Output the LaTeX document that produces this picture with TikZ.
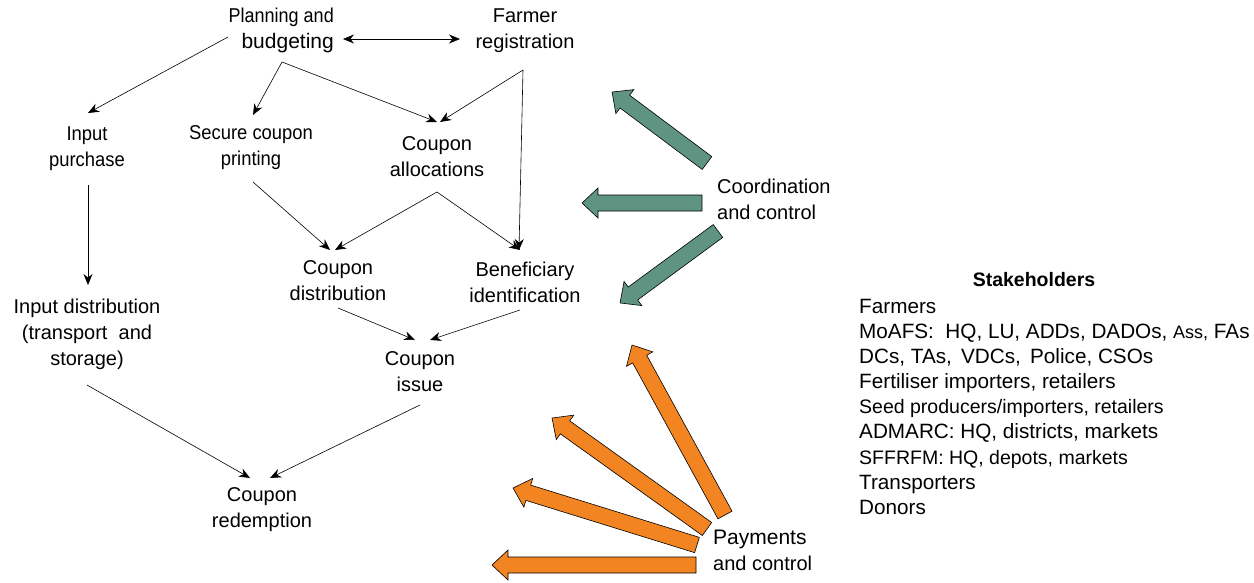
\documentclass[tikz,border=0pt]{standalone}
\usepackage{fontspec}
\setmainfont{Liberation Sans}
\newfontfamily\condfont[FakeStretch=0.92]{Liberation Sans}
\newfontfamily\ncondfont[FakeStretch=0.9]{Liberation Sans}
\usetikzlibrary{arrows.meta,calc}
\definecolor{tealc}{RGB}{95,148,130}
\definecolor{orangec}{RGB}{242,133,34}
\newcommand\blockarrow[5]{%
  \pgfmathsetmacro\bdx{#4-#2}\pgfmathsetmacro\bdy{#5-#3}%
  \pgfmathsetmacro\blen{veclen(\bdx,\bdy)}\pgfmathsetmacro\bang{atan2(-\bdy,\bdx)}%
  \begin{scope}[shift={(#2,#3)},rotate=\bang,x=1pt,y=1pt]
  \draw[fill=#1,line width=0.6pt,line join=miter] (0,-8) -- (\blen-16,-8) -- (\blen-16,-15) -- (\blen,0) -- (\blen-16,15) -- (\blen-16,8) -- (0,8) -- cycle;
  \end{scope}}
\tikzset{
  lbl/.style={align=center,inner sep=1pt,font=\fontsize{20}{26}\selectfont},
  clbl/.style={align=center,inner sep=1pt,font=\condfont\fontsize{20}{26}\selectfont},
  conn/.style={-{Stealth[length=11pt,width=9pt]},line width=0.6pt},
}
\begin{document}
\begin{tikzpicture}[x=1pt,y=-1pt]
\useasboundingbox (0,0) rectangle (1254,582);
% nodes
\node[lbl,align=right,anchor=east] (plan) at (335,30) {{\ncondfont\fontsize{20}{26}\selectfont Planning and}\\{\fontsize{21}{26}\selectfont budgeting}};
\node[lbl] (farmer) at (525,31) {Farmer\\registration};
\node[clbl] (inpur) at (87,149) {Input\\purchase};
\node[clbl] (secure) at (251,148) {Secure coupon\\printing};
\node[lbl] (alloc) at (437,157) {Coupon\\allocations};
\node[lbl] (cdist) at (338,281) {Coupon\\distribution};
\node[lbl] (benef) at (525,282) {Beneficiary\\identification};
\node[lbl] (indist) at (87,334) {Input distribution\\(transport\ \ and\\storage)};
\node[lbl] (issue) at (420,372) {Coupon\\issue};
\node[lbl] (redeem) at (262,510) {Coupon\\redemption};
\node[lbl,align=left,anchor=west] (coord) at (716,199) {Coordination\\and control};
\node[lbl,align=left,anchor=west] (pay) at (712,550) {{\fontsize{21}{26}\selectfont Payments}\\and control};
\node[font=\bfseries\fontsize{19.5}{22}\selectfont,inner sep=1pt] (stakeh) at (1034,280) {Stakeholders};
\node[anchor=north west,align=left,inner sep=0pt,font=\fontsize{20.7}{25.1}\selectfont] (stakel) at (859,299)
 {Farmers\\
  MoAFS:\ \ HQ, LU, ADDs, DADOs, {\fontsize{18}{25}\selectfont Ass,} FAs\\
  DCs, TAs, \,VDCs, \,Police, CSOs\\
  Fertiliser importers, retailers\\
  {\fontsize{19.5}{25}\selectfont Seed producers/importers, retailers}\\
  ADMARC: HQ, districts, markets\\
  {\fontsize{19.5}{25}\selectfont SFFRFM: HQ, depots, markets}\\
  Transporters\\
  Donors};
% connectors
\draw[conn] ($(plan.east)+(-107,7)$) -- ($(inpur)+(1,-36)$);
\draw[conn] ($(plan.east)+(-53,32)$) -- ($(secure)+(2,-33)$);
\draw[conn] ($(plan.east)+(-53,32)$) -- ($(alloc)+(0,-35)$);
\draw[conn,{Stealth[length=11pt,width=9pt]}-{Stealth[length=11pt,width=9pt]}] ($(plan.east)+(8,9)$) -- ($(farmer)+(-65,8)$);
\draw[conn] ($(farmer)+(-2,39)$) -- ($(alloc)+(3,-35)$);
\draw[conn] ($(farmer)+(-2,39)$) -- ($(benef)+(-6,-32)$);
\draw[conn] ($(secure)+(2,34)$) -- ($(cdist)+(-8,-31)$);
\draw[conn] ($(alloc)+(0,35)$) -- ($(cdist)+(-3,-31)$);
\draw[conn] ($(alloc)+(0,35)$) -- ($(benef)+(-5,-32)$);
\draw[conn] ($(inpur)+(1,36)$) -- ($(indist)+(1,-49)$);
\draw[conn] ($(cdist)+(0,27)$) -- ($(issue)+(-5,-32)$);
\draw[conn] ($(benef)+(-5,28)$) -- ($(issue)+(10,-32)$);
\draw[conn] ($(indist)+(0,51)$) -- ($(redeem)+(-12,-32)$);
\draw[conn] ($(issue)+(0,33)$) -- ($(redeem)+(8,-32)$);
% block arrows (coordination)
\blockarrow{tealc}{707}{163}{612}{92}
\blockarrow{tealc}{702}{203}{582}{203}
\blockarrow{tealc}{718}{231}{620}{303}
% block arrows (payments)
\blockarrow{orangec}{725}{515}{632}{345}
\blockarrow{orangec}{707}{529}{552}{418}
\blockarrow{orangec}{697}{545}{513}{488}
\blockarrow{orangec}{696}{565}{492}{565}
\end{tikzpicture}
\end{document}
